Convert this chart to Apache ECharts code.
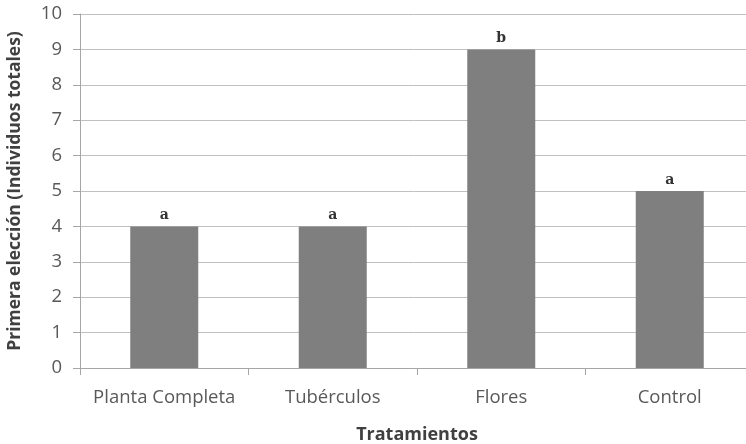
<!DOCTYPE html>
<html>
<head>
<meta charset="utf-8">
<script src="https://cdn.jsdelivr.net/npm/echarts@6/dist/echarts.min.js"></script>
<style>
  html, body { margin: 0; padding: 0; background: #fff; }
  #chart { width: 746px; height: 444px; }
</style>
</head>
<body>
<div id="chart"></div>
<script>
const categories = ['Planta Completa', 'Tubérculos', 'Flores', 'Control']
const values = [4, 4, 9, 5]
const letters = ['a', 'a', 'b', 'a']

const chart = echarts.init(document.getElementById('chart'))

chart.setOption({
  animation: false,
  textStyle: { fontFamily: 'Open Sans' },
  grid: {
    left: 80,
    top: 14,
    right: -8,
    bottom: 76,
    outerBoundsMode: 'none',
  },
  xAxis: {
    type: 'category',
    data: categories,
    name: 'Tratamientos',
    nameLocation: 'middle',
    nameGap: 58,
    nameTextStyle: { fontFamily: 'Open Sans', fontWeight: 'bold', fontSize: 18, color: '#404040' },
    axisLine: { lineStyle: { color: '#a6a6a6' } },
    axisTick: { show: true, interval: 0, alignWithLabel: false, length: 7, lineStyle: { color: '#a6a6a6' } },
    axisLabel: { interval: 0, hideOverlap: false, fontSize: 18.5, color: '#595959', margin: 20 },
  },
  yAxis: {
    type: 'value',
    min: 0,
    max: 10,
    interval: 1,
    name: 'Primera elección (Individuos totales)',
    nameLocation: 'middle',
    nameGap: 56,
    nameTextStyle: { fontFamily: 'Open Sans', fontWeight: 'bold', fontSize: 17.5, color: '#404040' },
    axisLine: { show: true, lineStyle: { color: '#a6a6a6' } },
    axisTick: { show: true, length: 7, lineStyle: { color: '#a6a6a6' } },
    axisLabel: { fontSize: 18.5, color: '#595959', margin: 18 },
    splitLine: { lineStyle: { color: '#c0c0c0' } },
  },
  series: [{
    type: 'bar',
    data: values,
    barWidth: 68,
    itemStyle: { color: '#7f7f7f' },
    label: {
      show: true,
      position: 'top',
      distance: 4,
      formatter: p => letters[p.dataIndex],
      fontFamily: 'DejaVu Serif',
      fontWeight: 'bold',
      fontSize: 14,
      color: '#333',
    },
  }],
})
</script>
</body>
</html>
